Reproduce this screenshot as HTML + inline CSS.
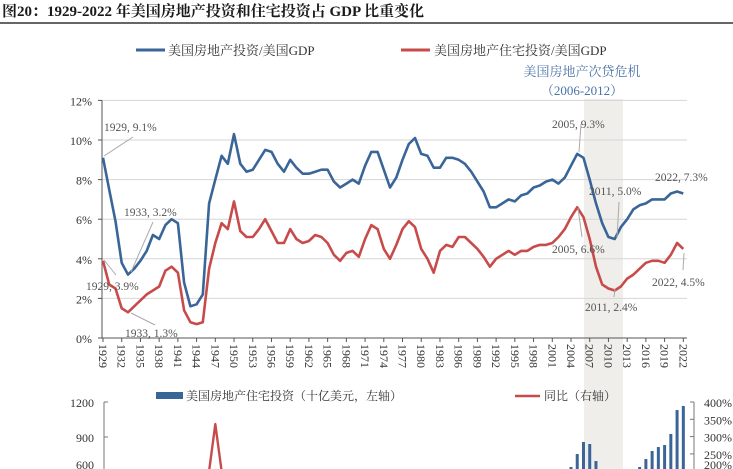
<!DOCTYPE html>
<html><head><meta charset="utf-8"><style>
html,body{margin:0;padding:0;background:#fff;width:733px;height:469px;overflow:hidden}
svg{display:block;font-family:"Liberation Serif","Noto Serif CJK SC",serif}
</style></head><body>
<svg id="c" width="733" height="469" viewBox="0 0 733 469">
<text x="2" y="16" font-size="15" font-weight="bold" fill="#1a1a1a">图20：1929-2022 年美国房地产投资和住宅投资占 GDP 比重变化</text>
<line x1="0" y1="23" x2="733" y2="23" stroke="#333" stroke-width="1.5"/>
<rect x="584" y="99" width="39" height="370" fill="#efeeea"/>
<g id="grid"></g><g id="axes"></g><g id="series"></g><g id="lower"></g>
<g>
<line x1="136" y1="50" x2="165" y2="50" stroke="#3a6598" stroke-width="3"/>
<text x="168" y="55" font-size="13" fill="#333">美国房地产投资/美国GDP</text>
<line x1="401" y1="50" x2="430" y2="50" stroke="#c84b4b" stroke-width="3"/>
<text x="434" y="55" font-size="13" fill="#333">美国房地产住宅投资/美国GDP</text>
</g>
<text x="582" y="76" font-size="13" fill="#4a72a8" text-anchor="middle">美国房地产次贷危机</text>
<text x="582" y="95" font-size="13" fill="#4a72a8" text-anchor="middle">（2006-2012）</text>
<g font-size="11.5" fill="#555">
<g stroke="#aaa" stroke-width="1">
<line x1="104" y1="156" x2="133" y2="137"/><line x1="131" y1="272" x2="153" y2="222"/>
<line x1="104" y1="260" x2="116" y2="275"/><line x1="131" y1="313" x2="155" y2="325"/>
<line x1="579" y1="152" x2="581" y2="124"/><line x1="617" y1="238" x2="619" y2="202"/>
<line x1="578" y1="208" x2="582" y2="237"/><line x1="615" y1="289" x2="614" y2="297"/>
<line x1="684" y1="253" x2="683" y2="270"/>
</g>
<text x="104" y="131">1929, 9.1%</text>
<text x="124" y="216">1933, 3.2%</text>
<text x="86" y="290">1929, 3.9%</text>
<text x="125" y="337">1933, 1.3%</text>
<text x="552" y="128">2005, 9.3%</text>
<text x="589" y="195">2011, 5.0%</text>
<text x="655" y="181">2022, 7.3%</text>
<text x="552" y="253">2005, 6.6%</text>
<text x="585" y="311">2011, 2.4%</text>
<text x="652" y="286">2022, 4.5%</text>
</g>
<g>
<rect x="156" y="392" width="27" height="7" fill="#3a6598"/>
<text x="186" y="400" font-size="12" fill="#333">美国房地产住宅投资（十亿美元，左轴）</text>
<line x1="515" y1="396" x2="540" y2="396" stroke="#c84b4b" stroke-width="2.5"/>
<text x="544" y="400" font-size="12" fill="#333">同比（右轴）</text>
</g>
</svg>
<script>
const totalShare=[9.1,7.5,5.9,3.8,3.2,3.5,3.9,4.4,5.2,5.0,5.7,6.0,5.8,2.8,1.6,1.7,2.2,6.8,8.0,9.2,8.8,10.3,8.8,8.4,8.5,9.0,9.5,9.4,8.8,8.4,9.0,8.6,8.3,8.3,8.4,8.5,8.5,7.9,7.6,7.8,8.0,7.8,8.7,9.4,9.4,8.5,7.6,8.1,9.0,9.8,10.1,9.3,9.2,8.6,8.6,9.1,9.1,9.0,8.8,8.4,7.9,7.4,6.6,6.6,6.8,7.0,6.9,7.2,7.3,7.6,7.7,7.9,8.0,7.8,8.1,8.7,9.3,9.1,8.0,6.8,5.8,5.1,5.0,5.6,6.0,6.5,6.7,6.8,7.0,7.0,7.0,7.3,7.4,7.3];
const resiShare=[3.9,2.7,2.5,1.5,1.3,1.6,1.9,2.2,2.4,2.6,3.4,3.6,3.3,1.4,0.8,0.7,0.8,3.5,4.8,5.8,5.5,6.9,5.4,5.1,5.1,5.5,6.0,5.4,4.8,4.8,5.5,5.0,4.8,4.9,5.2,5.1,4.8,4.2,3.9,4.3,4.4,4.1,5.0,5.7,5.5,4.5,4.0,4.7,5.5,5.9,5.6,4.5,4.0,3.3,4.4,4.7,4.6,5.1,5.1,4.8,4.5,4.1,3.6,4.0,4.2,4.4,4.2,4.4,4.4,4.6,4.7,4.7,4.8,5.1,5.5,6.1,6.6,6.1,5.0,3.6,2.7,2.5,2.4,2.6,3.0,3.2,3.5,3.8,3.9,3.9,3.8,4.2,4.8,4.5];
const firstYear=1929;
const yTicks=[0,2,4,6,8,10,12];
const barYears=[2003,2004,2005,2006,2007,2008,2009,2014,2015,2016,2017,2018,2019,2020,2021,2022];
const barValues=[580,643,754,857,840,694,450,570,643,711,780,814,831,926,1131,1166];
const yoyYears=[1944,1945,1946,1947,1948,1949];
const yoyValues=[-20,30,150,336,60,10];
const leftTicks=[600,900,1200];
const rightTicks=[200,250,300,350,400];

const NS="http://www.w3.org/2000/svg";
function mk(tag,attrs,parent,txt){const e=document.createElementNS(NS,tag);for(const k in attrs)e.setAttribute(k,attrs[k]);if(txt!=null)e.textContent=txt;parent.appendChild(e);return e;}
const X=yr=>103+(yr-1929)*6.24;
const Y=v=>338-v*19.8;
const YL=v=>402+(1200-v)*35/300;
const YR=v=>402+(400-v)*17.3/50;
const BOT=469;

const grid=document.getElementById('grid'),axes=document.getElementById('axes'),series=document.getElementById('series'),lower=document.getElementById('lower');
yTicks.forEach(t=>{
  if(t>0){const g=mk('line',{x1:102,x2:687,y1:Y(t),y2:Y(t),stroke:'#d6d6d6','stroke-width':1},grid);
  
  }
  const tl=mk('text',{x:92,y:Y(t)+5,'font-size':12,fill:'#333','text-anchor':'end'},axes,t+'%');
  
  
  mk('line',{x1:98,x2:102,y1:Y(t),y2:Y(t),stroke:'#555'},axes);
});
const ya=mk('line',{x1:102,x2:102,y1:Y(12),y2:338,stroke:'#555'},axes);


const xa=mk('line',{x1:102,x2:687,y1:338,y2:338,stroke:'#555'},axes);


for(let yr=1929;yr<=2022;yr+=3){
  mk('line',{x1:X(yr),x2:X(yr),y1:338,y2:342,stroke:'#555'},axes);
  const t=mk('text',{transform:`translate(${X(yr)-4},344) rotate(90)`,'font-size':12,fill:'#333'},axes,String(yr));
  
  
}
function line(arr,color,name){
  const d=arr.map((v,i)=>(i?'L':'M')+X(firstYear+i).toFixed(1)+','+Y(v).toFixed(1)).join('');
  const p=mk('path',{d,fill:'none',stroke:color,'stroke-width':2.6,'stroke-linejoin':'round'},series);
  
  
}
line(totalShare,'#3a6598','total-investment-line');
line(resiShare,'#c84b4b','residential-investment-line');

// lower chart
const cp=mk('clipPath',{id:'lc'},lower);mk('rect',{x:104,y:398,width:590,height:BOT-398},cp);
const lg=mk('g',{'clip-path':'url(#lc)'},lower);
barYears.forEach((yr,i)=>{
  const top=YL(barValues[i]);
  if(top>=BOT)return;
  const b=mk('rect',{x:X(yr)-1.5,y:top,width:3,height:BOT-top,fill:'#3a6598'},lg);
  
  
});
const yd=yoyValues.map((v,i)=>(i?'L':'M')+X(yoyYears[i]).toFixed(1)+','+Math.min(YR(v),BOT+2).toFixed(1)).join('');
const yl=mk('path',{d:yd,fill:'none',stroke:'#c84b4b','stroke-width':2.4,'stroke-linejoin':'round'},lg);


const la=mk('line',{x1:104,x2:104,y1:402,y2:BOT,stroke:'#777'},lower);


leftTicks.forEach(t=>{
  mk('line',{x1:104,x2:108,y1:YL(t),y2:YL(t),stroke:'#777'},lower);
  const tl=mk('text',{x:94,y:Math.min(YL(t)+5,BOT),'font-size':12,fill:'#333','text-anchor':'end'},lower,String(t));
  
  
});
const ra=mk('line',{x1:694,x2:694,y1:402,y2:BOT,stroke:'#777'},lower);


rightTicks.forEach(t=>{
  mk('line',{x1:690,x2:694,y1:YR(t),y2:YR(t),stroke:'#777'},lower);
  const tl=mk('text',{x:704,y:Math.min(YR(t)+5,BOT),'font-size':12,fill:'#333'},lower,t+'%');
  
  
});
</script>
</body></html>
